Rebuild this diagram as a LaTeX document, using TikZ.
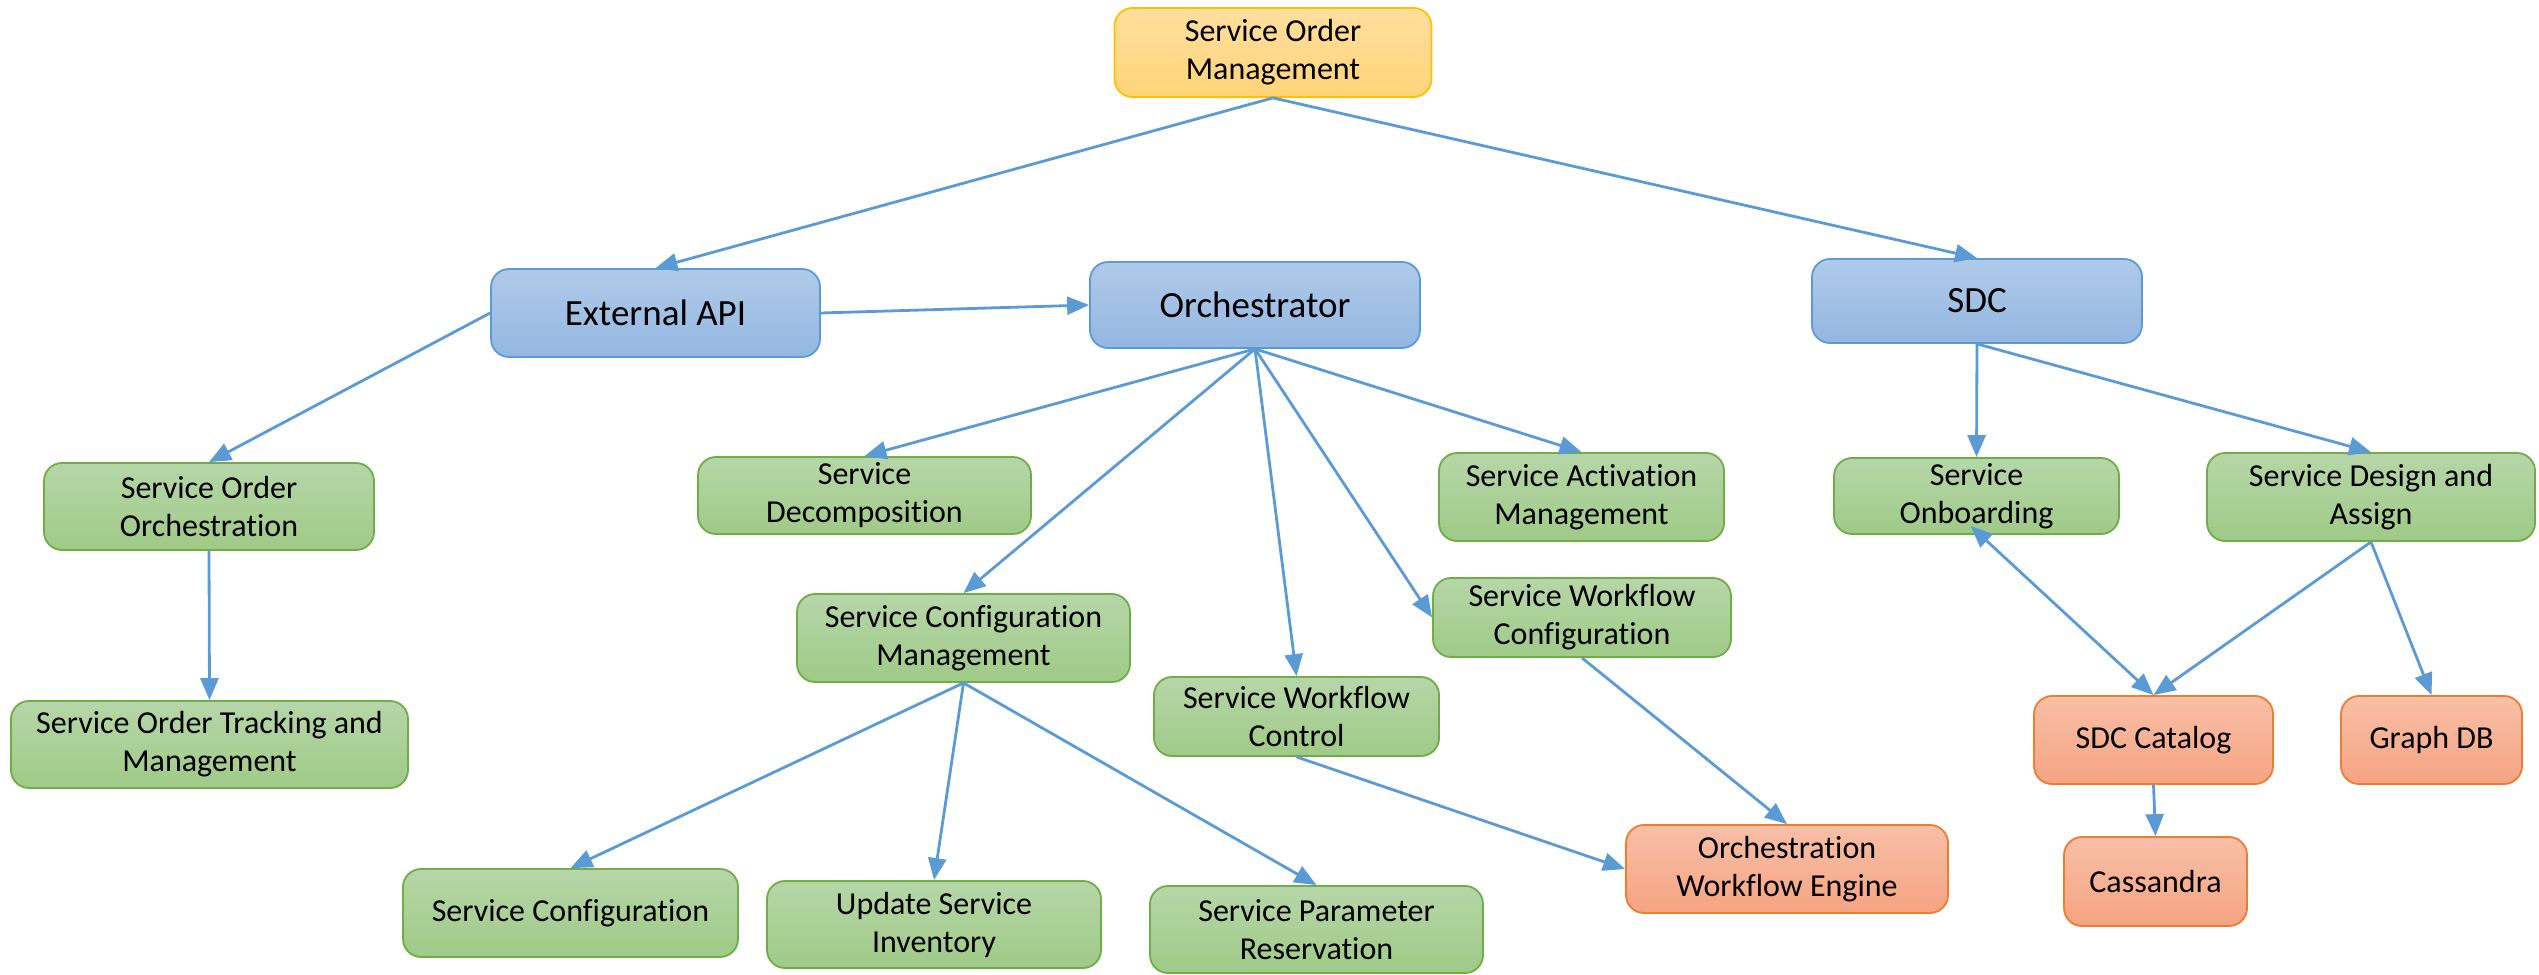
\documentclass[tikz,border=0pt]{standalone}
\usepackage{fontspec}
\setmainfont{Carlito}[RawFeature=-liga]
\usetikzlibrary{arrows.meta}
\definecolor{gT}{HTML}{B6D6A8}
\definecolor{gB}{HTML}{9FCA87}
\definecolor{gD}{HTML}{70AD47}
\definecolor{bT}{HTML}{B0CAE9}
\definecolor{bB}{HTML}{93B7E1}
\definecolor{bD}{HTML}{5B9BD5}
\definecolor{oT}{HTML}{F8BFA7}
\definecolor{oB}{HTML}{F5A482}
\definecolor{oD}{HTML}{ED7D31}
\definecolor{yT}{HTML}{FFDF9F}
\definecolor{yB}{HTML}{FFD478}
\definecolor{yD}{HTML}{FFC000}
\definecolor{arr}{HTML}{5B9BD5}
\tikzset{
  box/.style={rounded corners=18pt, line width=1.8pt, align=center, inner sep=0pt,
    font=\fontsize{32}{38}\selectfont},
  gbox/.style={box, draw=gD, top color=gT, bottom color=gB},
  bbox/.style={box, draw=bD, top color=bT, bottom color=bB, font=\fontsize{37}{44}\selectfont},
  obox/.style={box, draw=oD, top color=oT, bottom color=oB},
  ybox/.style={box, draw=yD, top color=yT, bottom color=yB},
  conn/.style={draw=arr, line width=2.8pt, -{Triangle[length=22pt,width=18pt]}},
}
\begin{document}
\begin{tikzpicture}[x=1pt,y=-1pt]
\useasboundingbox (0,0) rectangle (2539,974);
\node[ybox, minimum width=317pt, minimum height=89pt] (som) at (1273,52.5) {Service Order\\Management};
\node[bbox, minimum width=329pt, minimum height=88pt] (ext) at (655.5,313) {External API};
\node[bbox, minimum width=330pt, minimum height=86pt] (orch) at (1255,305) {Orchestrator};
\node[bbox, minimum width=330pt, minimum height=84pt] (sdc) at (1977,301) {SDC};
\node[gbox, minimum width=330pt, minimum height=87pt] (soo) at (209,506.5) {Service Order\\Orchestration};
\node[gbox, minimum width=397pt, minimum height=87pt] (sotm) at (209.5,744.5) {Service Order Tracking and\\Management};
\node[gbox, minimum width=333pt, minimum height=77pt] (sd) at (864.5,495.5) {Service\\Decomposition};
\node[gbox, minimum width=285pt, minimum height=88pt] (sam) at (1581.5,497) {Service Activation\\Management};
\node[gbox, minimum width=333pt, minimum height=88pt] (scm) at (963.5,638) {Service Configuration\\Management};
\node[gbox, minimum width=298pt, minimum height=79pt] (swconf) at (1582,617.5) {Service Workflow\\Configuration};
\node[gbox, minimum width=285pt, minimum height=79pt] (swctrl) at (1296.5,716.5) {Service Workflow\\Control};
\node[gbox, minimum width=335pt, minimum height=88pt] (sc) at (570.5,913) {Service Configuration};
\node[gbox, minimum width=334pt, minimum height=87pt] (usi) at (934,924.5) {Update Service\\Inventory};
\node[gbox, minimum width=333pt, minimum height=87pt] (spr) at (1316.5,929.5) {Service Parameter\\Reservation};
\node[obox, minimum width=322pt, minimum height=88pt] (owe) at (1787,869) {Orchestration\\Workflow Engine};
\node[gbox, minimum width=285pt, minimum height=76pt] (onb) at (1976.5,496) {Service\\Onboarding};
\node[gbox, minimum width=328pt, minimum height=88pt] (sda) at (2371,497) {Service Design and\\Assign};
\node[obox, minimum width=239pt, minimum height=88pt] (cat) at (2153.5,740) {SDC Catalog};
\node[obox, minimum width=181pt, minimum height=88pt] (gdb) at (2431.5,740) {Graph DB};
\node[obox, minimum width=183pt, minimum height=89pt] (cas) at (2155.5,881.5) {Cassandra};

\draw[conn] (som.south) -- (ext.north);
\draw[conn] (som.south) -- (sdc.north);
\draw[conn] (ext.east) -- (orch.west);
\draw[conn] (ext.west) -- (soo.north);
\draw[conn] (soo.south) -- (sotm.north);
\draw[conn] (orch.south) -- (sd.north);
\draw[conn] (orch.south) -- (sam.north);
\draw[conn] (orch.south) -- (scm.north);
\draw[conn] (orch.south) -- (swctrl.north);
\draw[conn] (orch.south) -- (swconf.west);
\draw[conn] (scm.south) -- (sc.north);
\draw[conn] (scm.south) -- (usi.north);
\draw[conn] (scm.south) -- (spr.north);
\draw[conn] (swctrl.south) -- (owe.west);
\draw[conn] (swconf.south) -- (owe.north);
\draw[conn] (sdc.south) -- (onb.north);
\draw[conn] (sdc.south) -- (sda.north);
\draw[conn, {Triangle[length=22pt,width=18pt]}-{Triangle[length=22pt,width=18pt]}] ([xshift=-6pt,yshift=9pt]onb.south) -- (cat.north);
\draw[conn] (sda.south) -- (cat.north);
\draw[conn] (sda.south) -- (gdb.north);
\draw[conn] (cat.south) -- (cas.north);
\end{tikzpicture}
\end{document}
